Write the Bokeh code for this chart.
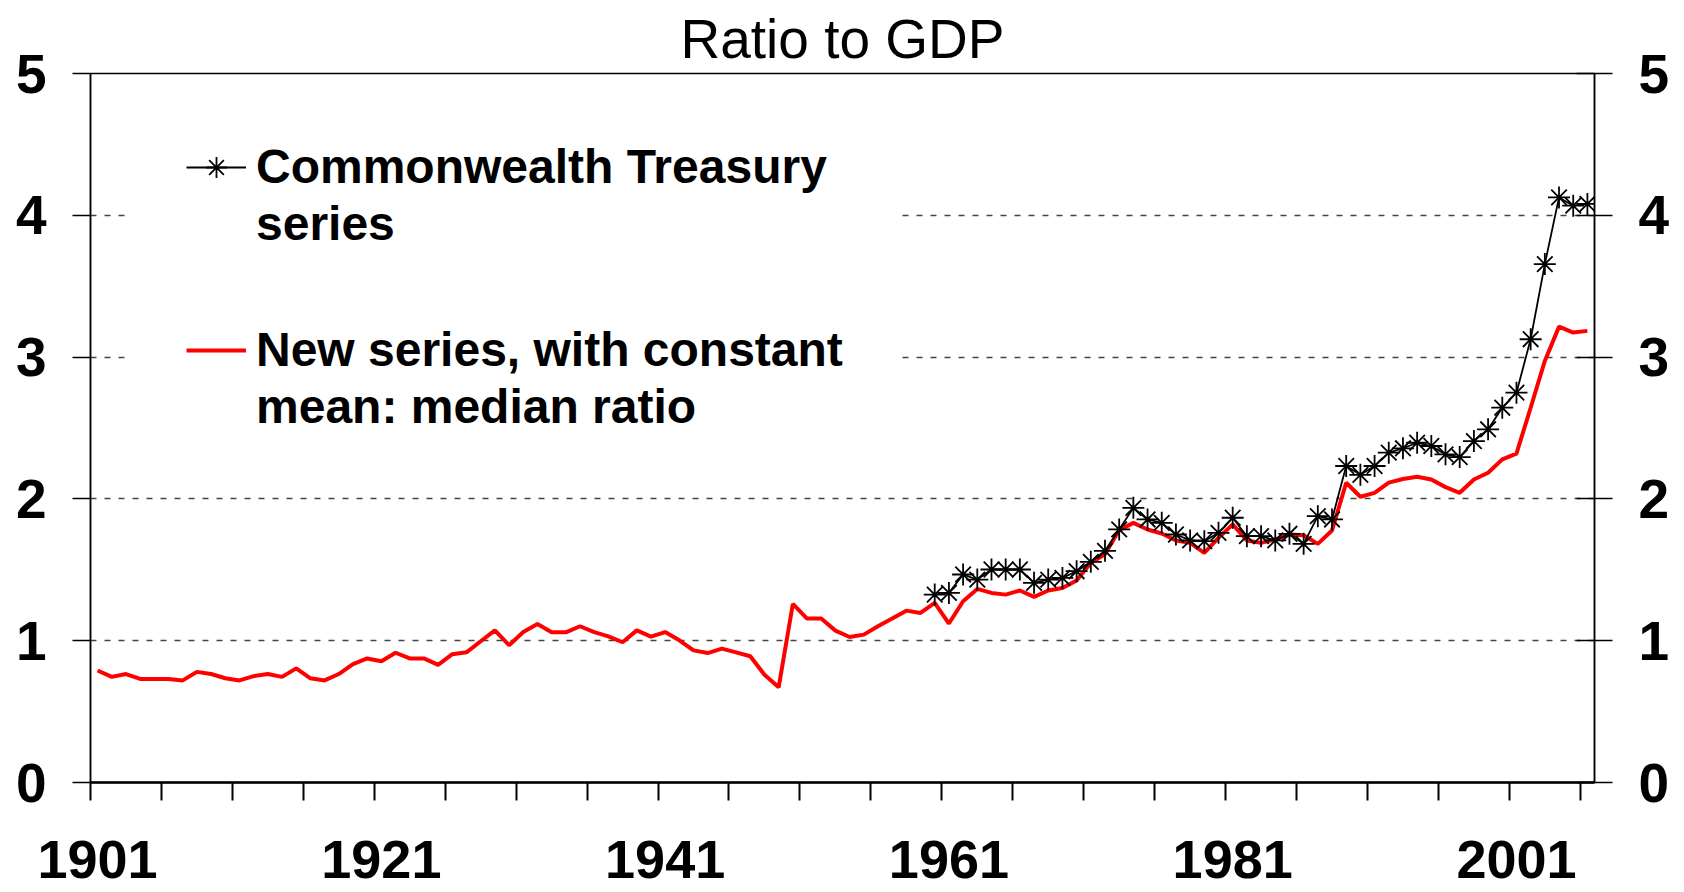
from bokeh.plotting import figure
from bokeh.models import (Range1d, FixedTicker, LinearAxis, Legend, LegendItem,
                          NumeralTickFormatter, BoxAnnotation)
from bokeh.embed import file_html
from bokeh.resources import INLINE

# ---------------- data ----------------
years = list(range(1901, 2007))
new_series = [
    0.79, 0.745, 0.765, 0.73, 0.73, 0.73, 0.72, 0.78, 0.765, 0.735,      # 1901-1910
    0.72, 0.75, 0.765, 0.745, 0.805, 0.735, 0.72, 0.765, 0.835, 0.875,   # 1911-1920
    0.855, 0.915, 0.875, 0.875, 0.83, 0.905, 0.918, 0.996, 1.073, 0.968, # 1921-1930
    1.061, 1.118, 1.059, 1.059, 1.102, 1.061, 1.031, 0.989, 1.073, 1.029,# 1931-1940
    1.061, 1.003, 0.932, 0.913, 0.944, 0.918, 0.89, 0.76, 0.671, 1.259,  # 1941-1950
    1.156, 1.156, 1.071, 1.026, 1.043, 1.102, 1.156, 1.212, 1.196, 1.266,# 1951-1960
    1.121, 1.278, 1.365, 1.337, 1.325, 1.354, 1.309, 1.354, 1.372, 1.424,# 1961-1970
    1.549, 1.61, 1.78, 1.831, 1.784, 1.756, 1.707, 1.69, 1.62, 1.725,    # 1971-1980
    1.82, 1.707, 1.69, 1.714, 1.749, 1.744, 1.683, 1.777, 2.114, 2.015,  # 1981-1990
    2.043, 2.115, 2.14, 2.156, 2.137, 2.083, 2.043, 2.137, 2.184, 2.279, # 1991-2000
    2.319, 2.643, 2.973, 3.215, 3.173, 3.185,                            # 2001-2006
]
treasury_years = list(range(1960, 2007))
treasury = [
    1.325, 1.337, 1.467, 1.431, 1.502, 1.502, 1.502, 1.408, 1.431, 1.443,  # 1960-1969
    1.49, 1.556, 1.634, 1.785, 1.937, 1.855, 1.831, 1.749, 1.707, 1.702,   # 1970-1979
    1.761, 1.867, 1.737, 1.737, 1.707, 1.754, 1.683, 1.878, 1.855, 2.232,  # 1980-1989
    2.17, 2.232, 2.326, 2.357, 2.396, 2.373, 2.314, 2.295, 2.408, 2.491,   # 1990-1999
    2.643, 2.749, 3.126, 3.656, 4.126, 4.068, 4.08,                        # 2000-2006
]
y_ticks = [0, 1, 2, 3, 4, 5]
label_years = [1901, 1921, 1941, 1961, 1981, 2001]
title_text = "Ratio to GDP"
legend_treasury = ["Commonwealth Treasury", "series"]
legend_new = ["New series, with constant", "mean: median ratio"]

FONT = "Liberation Sans"

x_lo, x_hi = years[0] - 0.5, years[-1] + 0.5

p = figure(width=1684, height=892, output_backend="svg", toolbar_location=None,
           x_range=Range1d(x_lo, x_hi),
           y_range=Range1d(y_ticks[0], y_ticks[-1]),
           min_border_left=90, min_border_right=90,
           min_border_top=73, min_border_bottom=110,
           title=title_text)
p.background_fill_color = "white"
p.border_fill_color = "white"
p.outline_line_color = "black"
p.outline_line_width = 1.5

p.title.text_font = FONT
p.title.text_font_size = "55px"
p.title.text_font_style = "normal"
p.title.text_color = "black"
p.title.align = "center"
p.title.standoff = 8

# x axis: boundary ticks drawn as minor ticks, labels at category centres
xa = p.xaxis[0]
xa.ticker = FixedTicker(ticks=label_years,
                        minor_ticks=[y - 0.5 for y in years[::5]])
xa.formatter = NumeralTickFormatter(format="0")
xa.major_tick_out = 0
xa.major_tick_in = 0
xa.minor_tick_out = 18
xa.minor_tick_in = 0
xa.minor_tick_line_color = "black"
xa.minor_tick_line_width = 2
xa.axis_line_color = "black"
xa.axis_line_width = 2.5
xa.major_label_text_font = FONT
xa.major_label_text_font_style = "bold"
xa.major_label_text_font_size = "54px"
xa.major_label_text_color = "black"
xa.major_label_standoff = 40

ya = p.yaxis[0]
ya.ticker = FixedTicker(ticks=y_ticks)
ya.major_tick_out = 18
ya.major_tick_in = 0
ya.major_tick_line_width = 1.5
ya.major_tick_line_color = "black"
ya.minor_tick_out = 0
ya.minor_tick_in = 0
ya.axis_line_width = 1.5
ya.axis_line_color = "black"
ya.major_label_text_font = FONT
ya.major_label_text_font_style = "bold"
ya.major_label_text_font_size = "55px"
ya.major_label_text_color = "black"
ya.major_label_standoff = 26

yr = LinearAxis(ticker=FixedTicker(ticks=y_ticks))
yr.major_tick_out = 18
yr.major_tick_in = 18
yr.major_tick_line_width = 1.5
yr.major_tick_line_color = "black"
yr.minor_tick_out = 0
yr.minor_tick_in = 0
yr.axis_line_width = 1.5
yr.axis_line_color = "black"
yr.major_label_text_font = FONT
yr.major_label_text_font_style = "bold"
yr.major_label_text_font_size = "55px"
yr.major_label_text_color = "black"
yr.major_label_standoff = 26
p.add_layout(yr, "right")

p.xgrid.visible = False
p.ygrid.ticker = FixedTicker(ticks=y_ticks)
p.ygrid.grid_line_color = "#444444"
p.ygrid.grid_line_width = 1.3
p.ygrid.grid_line_dash = "6 8"

red = p.line(years, new_series, line_color="#FF0000", line_width=4)
blk_line = p.line(treasury_years, treasury, line_color="black", line_width=1.8)
blk_pts = p.scatter(treasury_years, treasury, marker="asterisk", size=22,
                    line_color="black", line_width=1.8)
# invisible renderer used only for second legend lines (no glyph sample)
blank = p.line([], [], line_alpha=0)

# white mask behind the legend (hides the gridlines there)
mask = BoxAnnotation(left=1903.2, right=1957.3, bottom=2.45, top=4.9,
                     fill_color="white", fill_alpha=1.0, line_alpha=0.0)
p.add_layout(mask)


def make_legend(lines, renderers, loc):
    lg = Legend(items=[LegendItem(label=lines[0], renderers=renderers),
                       LegendItem(label=lines[1], renderers=[blank])],
                location=loc)
    lg.background_fill_alpha = 0.0
    lg.border_line_alpha = 0.0
    lg.label_text_font = FONT
    lg.label_text_font_style = "bold"
    lg.label_text_font_size = "48px"
    lg.label_text_color = "black"
    lg.glyph_width = 60
    lg.glyph_height = 52
    lg.label_height = 50
    lg.label_standoff = 10
    lg.padding = 0
    lg.spacing = 2
    lg.click_policy = "none"
    return lg


p.add_layout(make_legend(legend_treasury, [blk_line, blk_pts], (96, 531)))
p.add_layout(make_legend(legend_new, [red], (96, 348)))

open("out.html", "w").write(file_html(p, INLINE))
